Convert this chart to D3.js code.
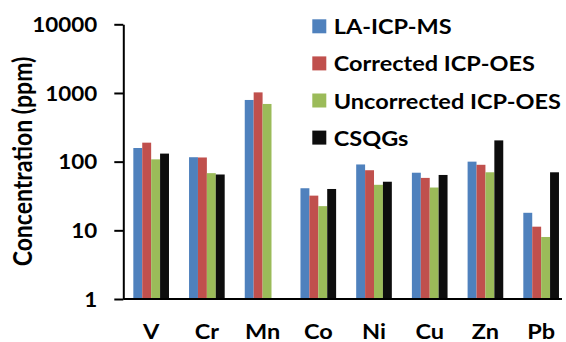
<!DOCTYPE html>
<html>
<head>
<meta charset="utf-8">
<script src="https://cdn.jsdelivr.net/npm/d3@7"></script>
<style>
  body { margin: 0; background: #fff; }
  text { font-family: Lato, "Open Sans", sans-serif; font-weight: bold; fill: #000; }
</style>
</head>
<body>
<div id="chart"></div>
<script>
// element categories and the four series (ppm)
const elements = ["V", "Cr", "Mn", "Co", "Ni", "Cu", "Zn", "Pb"]
const seriesNames = ["LA-ICP-MS", "Corrected ICP-OES", "Uncorrected ICP-OES", "CSQGs"]
const laIcpMs = [158, 116, 791, 41, 91, 69, 100, 18]
const correctedOes = [189, 115, 1020, 32, 75, 58, 90, 11.3]
const uncorrectedOes = [108, 68, 692, 22.5, 46, 42, 70, 8]
const csqgs = [131, 65, null, 40, 51, 64, 204, 70]
const yTicks = [1, 10, 100, 1000, 10000]

const seriesColors = ["#4F81BD", "#C0504D", "#9BBB59", "#0D0D0D"]

const width = 566
const height = 342
const sx = 1.12 // the text in the picture is a bit wide, so stretch it

const allSeries = [laIcpMs, correctedOes, uncorrectedOes, csqgs]
const rows = elements.map((el, i) => ({
  el: el,
  values: allSeries.map((s, j) => ({ key: seriesNames[j], v: s[i] }))
}))

const svg = d3.select("#chart")
  .append("svg")
  .attr("width", width)
  .attr("height", height)

const x0 = d3.scaleBand()
  .domain(elements)
  .range([123.3, 569])
  .paddingInner(0.36)
  .paddingOuter(0.18)

const x1 = d3.scaleBand()
  .domain(seriesNames)
  .range([0, x0.bandwidth()])

const y = d3.scaleLog()
  .domain([1, 10000])
  .range([299, 24.3])

const color = d3.scaleOrdinal().domain(seriesNames).range(seriesColors)

// bars
svg.append("g")
  .selectAll("g")
  .data(rows)
  .join("g")
  .attr("transform", d => "translate(" + x0(d.el) + ",0)")
  .selectAll("rect")
  .data(d => d.values.filter(v => v.v != null))
  .join("rect")
  .attr("x", d => x1(d.key))
  .attr("width", x1.bandwidth())
  .attr("y", d => y(d.v))
  .attr("height", d => y(1) - y(d.v))
  .attr("fill", d => color(d.key))

// x axis
const xAxis = svg.append("g")
  .attr("transform", "translate(0," + y(1) + ")")
  .call(d3.axisBottom(x0).tickSize(0).tickSizeOuter(0))
xAxis.select(".domain")
  .attr("d", "M" + x0.range()[0] + ",0H" + (width - 4))
  .attr("stroke", "#000")
  .attr("stroke-width", 2)
xAxis.selectAll("text")
  .attr("y", 0)
  .attr("dy", 0)
  .attr("transform", "translate(0,39.5) scale(" + sx + ",1)")
  .style("font-size", "21px")

// y axis
const yAxis = svg.append("g")
  .attr("transform", "translate(" + x0.range()[0] + ",0)")
  .call(d3.axisLeft(y).tickValues(yTicks).tickFormat(d3.format("d")).tickSize(9).tickSizeOuter(0))
yAxis.select(".domain").attr("stroke", "#000").attr("stroke-width", 2)
yAxis.selectAll("line").attr("stroke", "#000").attr("stroke-width", 2)
yAxis.selectAll("text")
  .attr("x", 0)
  .attr("dy", "0.36em")
  .attr("transform", "translate(-26,0) scale(" + sx + ",1)")
  .style("font-size", "20px")

// y axis title
svg.append("text")
  .attr("transform", "translate(31.7,161.5) scale(" + sx + ",1) rotate(-90)")
  .attr("text-anchor", "middle")
  .style("font-size", "23px")
  .text("Concentration (ppm)")

// legend
const legend = svg.append("g")
  .selectAll("g")
  .data(seriesNames)
  .join("g")
  .attr("transform", (d, i) => "translate(312.3," + (26.3 + i * 37.1) + ")")
legend.append("rect")
  .attr("x", 0)
  .attr("y", -7)
  .attr("width", 14)
  .attr("height", 14)
  .attr("fill", d => color(d))
legend.append("text")
  .attr("transform", "translate(21.4,8) scale(" + sx + ",1)")
  .style("font-size", "21px")
  .text(d => d)
</script>
</body>
</html>
